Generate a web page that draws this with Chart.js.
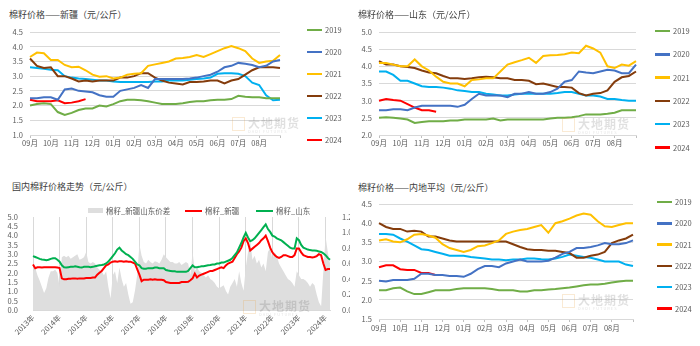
<!DOCTYPE html>
<html>
<head>
<meta charset="utf-8">
<script src="https://cdn.jsdelivr.net/npm/chart.js@4.4.1/dist/chart.umd.min.js"></script>
<style>
  html, body { margin: 0; padding: 0; background: #fff; }
  body { width: 700px; height: 346px; position: relative; overflow: hidden;
         font-family: 'Noto Sans CJK SC', 'Noto Sans', sans-serif; }
  .cell { position: absolute; width: 350px; height: 173px; }
  .cell canvas { position: absolute; left: 0; top: 0; }
  .title { position: absolute; font-size: 9px; line-height: 12px; color: #404040; white-space: nowrap; }
  .legend-item { position: absolute; height: 10px; font-size: 7.5px; line-height: 10px; color: #595959; white-space: nowrap; }
  .legend-item span { display: inline-block; width: 15px; height: 2.5px; vertical-align: middle; margin-right: 3px; position: relative; top: -1px; }
  .wm { position: absolute; color: rgba(0,0,0,0.12); white-space: nowrap; }
  .wm .logo { position: absolute; left: 0; top: 1px; width: 11px; height: 12px; border: 1px solid rgba(230,160,60,0.22); }
  .wm .cn { position: absolute; left: 16px; top: 0; font-size: 12px; line-height: 13px; font-weight: bold; letter-spacing: 1px; }
  .wm .en { position: absolute; left: 16px; top: 13px; font-size: 4px; line-height: 5px; letter-spacing: 1px; }
</style>
</head>
<body>

<div class="cell" style="left:0;top:0">
  <div class="title" style="left:9px;top:9px">棉籽价格——新疆（元/公斤）</div>
  <canvas id="xinjiangChart" width="350" height="173"></canvas>
  <div class="wm" style="left:232px;top:116px"><div class="logo"></div><div class="cn">大地期货</div><div class="en">DADI FUTURES</div></div>
  <div id="xinjiangLegend"></div>
</div>

<div class="cell" style="left:350px;top:0">
  <div class="title" style="left:8px;top:9px">棉籽价格——山东（元/公斤）</div>
  <canvas id="shandongChart" width="350" height="173"></canvas>
  <div class="wm" style="left:212px;top:117px"><div class="logo"></div><div class="cn">大地期货</div><div class="en">DADI FUTURES</div></div>
  <div id="shandongLegend"></div>
</div>

<div class="cell" style="left:0;top:173px">
  <div class="title" style="left:12px;top:8px">国内棉籽价格走势（元/公斤）</div>
  <canvas id="trendChart" width="350" height="173"></canvas>
  <div class="wm" style="left:243px;top:126px"><div class="logo"></div><div class="cn">大地期货</div><div class="en">DADI FUTURES</div></div>
  <div id="trendLegend"></div>
</div>

<div class="cell" style="left:350px;top:173px">
  <div class="title" style="left:8px;top:9px">棉籽价格——内地平均（元/公斤）</div>
  <canvas id="inlandChart" width="350" height="173"></canvas>
  <div class="wm" style="left:212px;top:120px"><div class="logo"></div><div class="cn">大地期货</div><div class="en">DADI FUTURES</div></div>
  <div id="inlandLegend"></div>
</div>

<script>
// season axis: Sep -> Aug, 3 readings per month
const monthLabels = ["09月", "10月", "11月", "12月", "01月", "02月", "03月", "04月", "05月", "06月", "07月", "08月"];
const seasonYears = ["2019", "2020", "2021", "2022", "2023", "2024"];
const seasonColors = ["#70AD47", "#4472C4", "#FFC000", "#843C0C", "#00B0F0", "#FF0000"];

// 新疆
const xj2019 = [2.0,2.05,2.08,2.05,1.78,1.68,1.75,1.85,1.9,1.9,2.0,1.97,2.05,2.15,2.2,2.2,2.18,2.15,2.1,2.05,2.05,2.05,2.08,2.12,2.15,2.15,2.18,2.2,2.2,2.22,2.33,2.3,2.28,2.28,2.25,2.25,2.25];
const xj2020 = [2.25,2.25,2.28,2.28,2.2,2.55,2.58,2.5,2.48,2.45,2.35,2.3,2.3,2.5,2.55,2.6,2.7,2.6,2.9,2.9,2.9,2.9,2.9,2.92,2.95,3.0,3.05,3.15,3.3,3.35,3.45,3.42,3.38,3.3,3.35,3.5,3.55];
const xj2021 = [3.65,3.8,3.78,3.55,3.55,3.38,3.3,3.32,3.2,3.05,2.98,3.0,2.92,2.95,3.05,3.08,3.1,3.35,3.4,3.45,3.5,3.6,3.62,3.65,3.72,3.65,3.75,3.85,3.95,4.02,3.95,3.85,3.6,3.45,3.5,3.52,3.72];
const xj2022 = [3.6,3.35,3.28,3.3,3.0,3.0,2.92,2.82,2.85,2.82,2.85,2.85,2.85,2.95,2.95,3.0,3.1,3.1,2.95,2.85,2.78,2.75,2.72,2.8,2.8,2.82,2.85,2.85,2.75,2.85,2.9,3.05,3.2,3.3,3.3,3.3,3.28];
const xj2023 = [3.3,3.28,3.25,3.22,3.2,3.0,2.95,2.92,2.9,2.88,2.85,2.85,2.82,2.8,2.8,2.8,2.8,2.8,2.82,2.82,2.85,2.85,2.85,2.88,2.9,2.92,2.95,3.08,3.1,3.1,3.08,3.0,2.78,2.7,2.35,2.18,2.2];
const xj2024 = [2.2,2.15,2.15,2.15,2.18,2.08,2.1,2.15,2.22];

// 山东
const sd2019 = [2.5,2.52,2.5,2.48,2.45,2.35,2.38,2.4,2.4,2.4,2.42,2.42,2.45,2.45,2.45,2.45,2.48,2.42,2.45,2.45,2.45,2.45,2.45,2.45,2.48,2.5,2.5,2.52,2.55,2.6,2.6,2.6,2.62,2.65,2.72,2.72,2.72];
const sd2020 = [2.72,2.72,2.75,2.75,2.72,2.8,2.85,2.85,2.85,2.85,2.85,2.82,2.88,3.05,3.2,3.15,3.15,3.15,3.1,3.2,3.2,3.25,3.2,3.2,3.25,3.35,3.55,3.6,3.85,3.82,3.8,3.85,3.9,3.88,3.8,3.8,4.05];
const sd2021 = [4.1,4.1,4.05,4.0,4.0,4.2,4.0,3.88,3.7,3.55,3.5,3.5,3.42,3.6,3.62,3.65,3.65,3.85,4.05,4.12,4.18,4.25,4.1,4.3,4.32,4.33,4.35,4.4,4.38,4.6,4.52,4.4,4.0,3.95,4.05,4.02,4.15];
const sd2022 = [4.15,4.05,4.05,4.0,3.98,3.95,3.88,3.82,3.8,3.72,3.65,3.65,3.63,3.65,3.68,3.7,3.68,3.65,3.65,3.6,3.6,3.58,3.48,3.5,3.45,3.4,3.4,3.38,3.22,3.15,3.2,3.22,3.3,3.55,3.68,3.72,3.85];
const sd2023 = [3.85,3.85,3.75,3.58,3.58,3.5,3.42,3.4,3.4,3.38,3.35,3.3,3.28,3.25,3.25,3.2,3.18,3.15,3.15,3.18,3.2,3.2,3.2,3.2,3.2,3.22,3.25,3.25,3.2,3.15,3.15,3.12,3.05,3.05,3.02,3.0,3.0];
const sd2024 = [3.0,3.05,3.02,3.0,2.9,2.8,2.72,2.72,2.68];

// 内地平均
const nd2019 = [2.25,2.25,2.3,2.32,2.22,2.15,2.15,2.2,2.25,2.25,2.25,2.28,2.3,2.3,2.3,2.3,2.28,2.25,2.25,2.25,2.22,2.22,2.25,2.25,2.27,2.28,2.3,2.32,2.35,2.38,2.4,2.4,2.42,2.45,2.48,2.5,2.5];
const nd2020 = [2.5,2.48,2.52,2.52,2.52,2.55,2.68,2.68,2.65,2.65,2.62,2.62,2.6,2.68,2.8,2.88,2.88,2.85,2.95,3.0,3.05,3.0,3.0,3.0,3.02,3.1,3.2,3.25,3.35,3.35,3.38,3.42,3.48,3.45,3.45,3.48,3.55];
const nd2021 = [3.55,3.58,3.52,3.5,3.58,3.7,3.72,3.68,3.62,3.45,3.35,3.3,3.25,3.3,3.4,3.42,3.48,3.55,3.72,3.78,3.82,3.85,3.9,3.95,3.75,4.0,4.05,4.12,4.2,4.25,4.22,4.05,3.92,3.9,3.95,4.0,4.0];
const nd2022 = [4.0,3.9,3.85,3.85,3.78,3.8,3.78,3.65,3.65,3.6,3.55,3.52,3.52,3.52,3.52,3.52,3.52,3.52,3.52,3.45,3.38,3.32,3.3,3.3,3.28,3.28,3.25,3.22,3.1,3.1,3.15,3.18,3.25,3.48,3.55,3.6,3.7];
const nd2023 = [3.72,3.72,3.7,3.6,3.52,3.42,3.32,3.3,3.25,3.2,3.15,3.15,3.15,3.12,3.1,3.08,3.05,3.05,3.03,3.05,3.05,3.08,3.08,3.06,3.05,3.08,3.12,3.18,3.15,3.12,3.1,3.05,3.0,3.0,3.0,2.92,2.88];
const nd2024 = [2.85,2.9,2.9,2.8,2.78,2.78,2.7,2.7,2.65];

// long history, monthly from 2013
const yearLabels = ["2013年", "2014年", "2015年", "2016年", "2017年", "2018年", "2019年", "2020年", "2021年", "2022年", "2023年", "2024年"];
const trendNames = ["棉籽_新疆山东价差", "棉籽_新疆", "棉籽_山东"];
const trendColors = ["#DEDEDE", "#FF0000", "#00B050"];
const xinjiangPrice = [
  2.45,2.25,2.3,2.3,2.28,2.3,2.3,2.3,2.3,2.3,2.3,2.28,
  2.25,1.7,1.65,1.65,1.68,1.68,1.7,1.7,1.68,1.7,1.7,1.7,
  1.72,1.72,1.72,1.75,1.75,1.9,2.0,2.1,2.25,2.4,2.45,2.55,
  2.6,2.62,2.6,2.62,2.62,2.6,2.62,2.6,2.6,2.55,2.5,2.2,
  1.9,1.55,1.63,1.63,1.63,1.65,1.63,1.65,1.63,1.63,1.63,1.6,
  1.5,1.48,1.45,1.45,1.45,1.45,1.45,1.5,1.5,1.5,1.52,1.6,
  1.7,1.95,1.75,1.85,1.9,1.95,2.0,2.05,2.1,2.1,2.15,2.2,
  2.25,2.3,2.25,2.4,2.5,2.55,2.6,2.8,3.0,3.15,3.35,3.7,
  3.85,3.6,3.2,3.3,3.4,3.5,3.6,3.75,3.85,4.0,3.7,3.35,
  3.1,2.95,2.85,2.8,2.85,2.95,2.95,2.9,2.85,2.85,2.95,3.3,
  3.3,3.1,2.95,2.9,2.85,2.85,2.82,2.85,2.9,3.0,2.95,2.5,
  2.15,2.2,2.2
];
const shandongPrice = [
  2.9,2.85,2.8,2.75,2.72,2.7,2.68,2.7,2.75,2.78,2.78,2.7,
  2.6,2.4,2.3,2.28,2.3,2.32,2.32,2.35,2.33,2.3,2.28,2.32,
  2.32,2.32,2.3,2.32,2.35,2.38,2.4,2.42,2.45,2.5,2.6,2.75,
  2.9,3.05,3.25,3.35,3.2,3.1,3.0,2.95,2.85,2.75,2.6,2.45,
  2.4,2.25,2.22,2.22,2.25,2.25,2.25,2.28,2.28,2.25,2.25,2.25,
  2.15,2.12,2.1,2.08,2.08,2.05,2.05,2.05,2.05,2.05,2.1,2.25,
  2.4,2.3,2.3,2.32,2.35,2.35,2.38,2.4,2.42,2.45,2.45,2.5,
  2.5,2.55,2.55,2.6,2.65,2.7,2.8,2.95,3.1,3.35,3.6,3.9,
  4.15,3.9,3.7,3.75,3.85,4.0,4.15,4.3,4.45,4.6,4.35,4.2,
  4.0,3.95,3.85,3.8,3.75,3.65,3.55,3.45,3.35,3.3,3.3,3.85,
  3.75,3.5,3.35,3.3,3.25,3.22,3.2,3.2,3.18,3.15,3.12,3.05,
  2.95,2.8,2.7
];
const priceSpread = [
  0.5,0.55,0.45,0.38,0.3,0.22,0.28,0.42,0.5,0.5,0.52,0.48,
  0.3,0.68,0.7,0.68,0.7,0.66,0.68,0.7,0.72,0.65,0.66,0.68,
  0.75,0.62,0.6,0.62,0.6,0.55,0.52,0.5,0.45,0.5,0.3,0.15,
  0.45,0.5,0.35,0.55,0.4,0.3,0.35,0.2,0.08,0.1,0.25,0.45,
  0.85,0.7,0.62,0.6,0.65,0.62,0.6,0.63,0.62,0.6,0.65,0.72,
  0.68,0.65,0.62,0.62,0.6,0.6,0.62,0.58,0.6,0.62,0.6,0.45,
  0.75,0.5,0.55,0.5,0.48,0.45,0.42,0.45,0.4,0.38,0.35,0.3,
  0.28,0.3,0.32,0.25,0.2,0.3,0.35,0.4,0.3,0.5,0.35,0.25,
  0.55,0.75,0.9,0.65,0.7,0.6,0.65,0.55,0.6,0.5,0.75,0.8,
  0.65,0.75,0.7,0.6,0.55,0.5,0.45,0.4,0.38,0.35,0.3,0.5,
  0.45,0.4,0.4,0.38,0.35,0.3,0.35,0.32,0.2,0.1,0.05,0.5,
  0.95,0.75,0.6
];

Chart.defaults.font.family = "'Noto Sans CJK SC', 'Noto Sans', sans-serif";
Chart.defaults.font.size = 7.5;
Chart.defaults.color = "#595959";
Chart.defaults.animation = false;

const seasonLabels = Array.from({ length: 37 }, (_, i) => (i % 3 === 0 && i < 36) ? monthLabels[i / 3] : "");

// box = [plot left, plot right, plot top, plot bottom] inside the 350x173 cell
function seasonChart(canvasId, series, yMin, yMax, box, labelGap) {
  const [left, right, top, bottom] = box;
  new Chart(document.getElementById(canvasId), {
    type: "line",
    data: {
      labels: seasonLabels,
      datasets: series.map((data, k) => ({
        label: seasonYears[k],
        data: data,
        borderColor: seasonColors[k],
        backgroundColor: seasonColors[k],
        borderWidth: 2,
        pointRadius: 0,
        tension: 0
      }))
    },
    options: {
      responsive: false,
      layout: { padding: { left: 0, right: 350 - right, top: top, bottom: 0 } },
      plugins: { legend: { display: false }, tooltip: { enabled: false } },
      scales: {
        x: {
          grid: {
            drawOnChartArea: false,
            tickLength: 3,
            color: ctx => (ctx.index % 3 === 0 ? "#BFBFBF" : "transparent")
          },
          border: { color: "#D9D9D9" },
          ticks: { autoSkip: false, maxRotation: 0, padding: labelGap },
          afterFit: s => { s.height = 173 - bottom; }
        },
        y: {
          min: yMin,
          max: yMax,
          grid: { color: "#D9D9D9", drawTicks: false },
          border: { display: false },
          ticks: { stepSize: 0.5, autoSkip: false, padding: 7, callback: v => v.toFixed(1) },
          afterFit: s => { s.width = left; }
        }
      }
    }
  });
}

function htmlLegend(elId, names, colors, spots, lineW, lineH) {
  const box = document.getElementById(elId);
  names.forEach((name, k) => {
    const item = document.createElement("div");
    item.className = "legend-item";
    item.style.left = spots[k][0] + "px";
    item.style.top = (spots[k][1] - 5) + "px";
    item.innerHTML = '<span style="background:' + colors[k] + ';width:' + lineW[k] + 'px;height:' + lineH[k] + 'px"></span>' + name;
    box.appendChild(item);
  });
}

function seasonLegend(elId, left, firstY, gap) {
  htmlLegend(elId, seasonYears, seasonColors,
    seasonYears.map((_, k) => [left, firstY + gap * k]),
    seasonYears.map(() => 15), seasonYears.map(() => 2.5));
}

seasonChart("xinjiangChart", [xj2019, xj2020, xj2021, xj2022, xj2023, xj2024], 1.0, 4.5, [30, 280, 32, 135], 1);
seasonLegend("xinjiangLegend", 307, 30, 22);

seasonChart("shandongChart", [sd2019, sd2020, sd2021, sd2022, sd2023, sd2024], 2.0, 5.0, [29, 286, 32, 135], 1);
seasonLegend("shandongLegend", 305, 31, 23.3);

seasonChart("inlandChart", [nd2019, nd2020, nd2021, nd2022, nd2023, nd2024], 1.5, 4.5, [29, 283, 31, 146], 2);
seasonLegend("inlandLegend", 307, 29, 21.3);

// 国内棉籽价格走势
const trendLabels = xinjiangPrice.map((_, i) => (i % 12 === 0) ? yearLabels[i / 12] : "");

new Chart(document.getElementById("trendChart"), {
  type: "line",
  data: {
    labels: trendLabels,
    datasets: [
      {
        label: trendNames[0],
        data: priceSpread,
        yAxisID: "y1",
        order: 3,
        fill: "origin",
        backgroundColor: trendColors[0],
        borderWidth: 0,
        pointRadius: 0
      },
      {
        label: trendNames[1],
        data: xinjiangPrice,
        order: 2,
        borderColor: trendColors[1],
        borderWidth: 2,
        pointRadius: 0
      },
      {
        label: trendNames[2],
        data: shandongPrice,
        order: 1,
        borderColor: trendColors[2],
        borderWidth: 2,
        pointRadius: 0
      }
    ]
  },
  options: {
    responsive: false,
    layout: { padding: { left: 0, right: 0, top: 44, bottom: 0 } },
    plugins: { legend: { display: false }, tooltip: { enabled: false } },
    scales: {
      x: {
        grid: { color: ctx => (ctx.index % 12 === 0 ? "#D9D9D9" : "transparent"), drawTicks: false },
        border: { color: "#D9D9D9" },
        ticks: { autoSkip: false, minRotation: 45, maxRotation: 45, padding: 3 },
        afterFit: s => { s.height = 36; }
      },
      y: {
        min: 0,
        max: 5,
        grid: { display: false },
        border: { display: false },
        ticks: { stepSize: 0.5, autoSkip: false, padding: 7, callback: v => v.toFixed(1) },
        afterFit: s => { s.width = 33; }
      },
      y1: {
        position: "right",
        min: 0,
        max: 1.2,
        grid: { display: false },
        border: { display: false },
        ticks: { stepSize: 0.2, autoSkip: false, padding: 4, callback: v => v.toFixed(1) },
        afterFit: s => { s.width = 20; }
      }
    }
  }
});
htmlLegend("trendLegend", trendNames, trendColors, [[88, 38], [185, 38], [256, 38]], [15, 17, 17], [5, 2.5, 2.5]);
</script>
</body>
</html>
